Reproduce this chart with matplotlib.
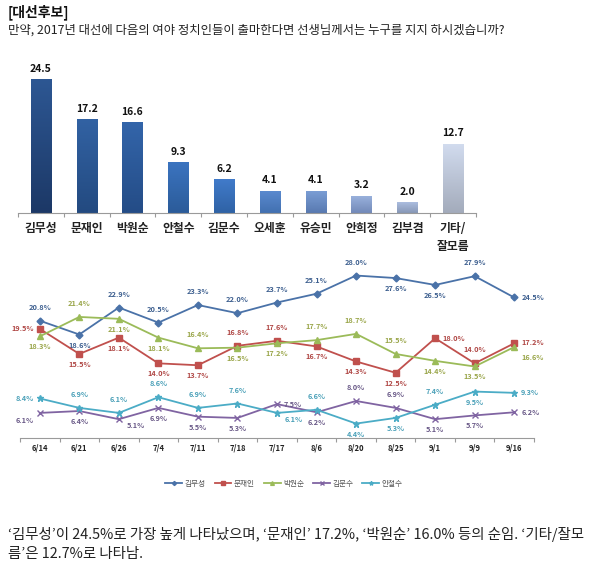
import matplotlib
matplotlib.use("Agg")
import matplotlib.pyplot as plt
import numpy as np
from matplotlib.colors import LinearSegmentedColormap

plt.rcParams['font.family'] = ['Noto Sans CJK KR', 'DejaVu Sans']

# ---------------- data ----------------
bar_names = ['김무성', '문재인', '박원순', '안철수', '김문수', '오세훈', '유승민', '안희정', '김부겸', '기타/\n잘모름']
bar_values = [24.5, 17.2, 16.6, 9.3, 6.2, 4.1, 4.1, 3.2, 2.0, 12.7]

dates = ['6/14', '6/21', '6/26', '7/4', '7/11', '7/18', '7/17', '8/6', '8/20', '8/25', '9/1', '9/9', '9/16']
s_kms = [20.8, 18.6, 22.9, 20.5, 23.3, 22.0, 23.7, 25.1, 28.0, 27.6, 26.5, 27.9, 24.5]
s_mji = [19.5, 15.5, 18.1, 14.0, 13.7, 16.8, 17.6, 16.7, 14.3, 12.5, 18.0, 14.0, 17.2]
s_pws = [18.3, 21.4, 21.1, 18.1, 16.4, 16.5, 17.2, 17.7, 18.7, 15.5, 14.4, 13.5, 16.6]
s_kmsu = [6.1, 6.4, 5.1, 6.9, 5.5, 5.3, 7.5, 6.2, 8.0, 6.9, 5.1, 5.7, 6.2]
s_acs = [8.4, 6.9, 6.1, 8.6, 6.9, 7.6, 6.1, 6.6, 4.4, 5.3, 7.4, 9.5, 9.3]
series_names = ['김무성', '문재인', '박원순', '김문수', '안철수']

# ---------------- style ----------------
bar_top = ['#2d5793', '#3262a3', '#3365aa', '#3b74c0', '#417bca', '#5b8bd0', '#7c9fd6',
           '#9bb3de', '#abbddf', '#d2dcef']
bar_bot = ['#1c3866', '#234a80', '#244c86', '#2b5b99', '#2f62a5', '#4270b0', '#5879b0',
           '#7289b8', '#8797b6', '#a3abbb']

line_colors = ['#4a72a8', '#c0504d', '#9bbb59', '#8064a2', '#4bacc6']
label_colors = ['#3d5f8f', '#b04846', '#9aa64a', '#6a5a88', '#4aa0b8']
markers = ['D', 's', '^', 'x', '*']
msizes = [3.5, 5, 4.5, 4, 5]

# label placement codes: a=above, b=below, l=left, r=right
place = [
    ['a', 'b', 'a', 'a', 'a', 'a', 'a', 'a', 'a', 'b', 'b', 'a', 'r'],
    ['l', 'b', 'b', 'b', 'b', 'a', 'a', 'b', 'b', 'b', 'r', 'a', 'ru'],
    ['b', 'a', 'b', 'b', 'a', 'b', 'b', 'a', 'a', 'a', 'b', 'b', 'rd'],
    ['bl', 'b', 'br', 'b', 'b', 'b', 'r', 'b', 'a', 'a', 'b', 'b', 'r'],
    ['l', 'a', 'a', 'a', 'a', 'a', 'br', 'a', 'b', 'b', 'a', 'b', 'r'],
]
offs = {'a': (0, 10, 'center', 'bottom'), 'b': (0, -7, 'center', 'top'),
        'l': (-6, 0, 'right', 'center'), 'r': (7, 0, 'left', 'center'),
        'ru': (7, 1, 'left', 'center'), 'rd': (7, -10, 'left', 'center'),
        'bl': (-6, -4, 'right', 'top'), 'br': (8, -3, 'left', 'top')}

W, H = 600, 579
fig = plt.figure(figsize=(6.0, 5.79), dpi=100)

def fx(px):
    return px / W

def fy(py):
    return 1 - py / H

# titles
fig.text(fx(8), fy(12), '[대선후보]', fontsize=10, fontweight='bold', va='center', ha='left', color='#111111')
fig.text(fx(8), fy(30), '만약, 2017년 대선에 다음의 여야 정치인들이 출마한다면 선생님께서는 누구를 지지 하시겠습니까?',
         fontsize=8.9, va='center', ha='left', color='#222222')

# ---------------- bar chart ----------------
axb = fig.add_axes([fx(18), fy(213), fx(476 - 18), (213 - 60) / H])
x = np.arange(len(bar_values))
bars = axb.bar(x, bar_values, width=0.44, color='none', edgecolor='none', zorder=2)
axb.set_xlim(-0.5, len(bar_values) - 0.5)
axb.set_ylim(0, 28)
grad = np.linspace(0, 1, 256).reshape(-1, 1)
for i, b in enumerate(bars):
    cmap = LinearSegmentedColormap.from_list('g%d' % i, [bar_bot[i], bar_top[i]])
    bx, by = b.get_x(), b.get_y()
    bw, bh = b.get_width(), b.get_height()
    im = axb.imshow(grad, extent=[bx, bx + bw, by, by + bh], origin='lower', aspect='auto',
                    cmap=cmap, zorder=2)
    im.set_clip_path(b)
    b.set_edgecolor('#ffffff')
    b.set_linewidth(0.6)
    axb.text(bx + bw / 2, by + bh + 1.0, f'{bar_values[i]:.1f}', ha='center', va='bottom',
             fontsize=7.5, fontweight='bold', color='#111111')
axb.set_aspect('auto')
for s in ['top', 'right', 'left']:
    axb.spines[s].set_visible(False)
axb.spines['bottom'].set_color('#9a9a9a')
axb.spines['bottom'].set_linewidth(0.8)
axb.set_yticks([])
axb.set_xticks(np.arange(-0.5, len(bar_values)), minor=False)
axb.set_xticklabels([])
axb.tick_params(axis='x', length=3, color='#9a9a9a', width=0.8)
for i, n in enumerate(bar_names):
    axb.text(i, -1.6, n, ha='center', va='top', fontsize=8.5, fontweight='bold', color='#222222',
             linespacing=1.5)

# ---------------- line chart ----------------
axl = fig.add_axes([fx(20), fy(438), fx(534 - 20), (438 - 263) / H])
xs = np.arange(len(dates))
all_series = [s_kms, s_mji, s_pws, s_kmsu, s_acs]
for k, ser in enumerate(all_series):
    axl.plot(xs, ser, color=line_colors[k], lw=1.3, marker=markers[k], ms=msizes[k],
             mew=1.0, mfc=line_colors[k], mec=line_colors[k], label=series_names[k], zorder=3)
    for i, v in enumerate(ser):
        dx, dy, ha, va = offs[place[k][i]]
        axl.annotate(f'{v:.1f}%', (xs[i], v), xytext=(dx, dy), textcoords='offset pixels',
                     ha=ha, va=va, fontsize=5.3, color=label_colors[k], fontweight='bold')
axl.set_xlim(-0.5, len(dates) - 0.5)
axl.set_ylim(2.1, 30)
for s in ['top', 'right', 'left']:
    axl.spines[s].set_visible(False)
axl.spines['bottom'].set_color('#9a9a9a')
axl.spines['bottom'].set_linewidth(0.8)
axl.set_yticks([])
axl.set_xticks(np.arange(-0.5, len(dates)))
axl.set_xticklabels([])
axl.tick_params(axis='x', length=3, color='#9a9a9a', width=0.8)
for i, d in enumerate(dates):
    axl.text(i, 1.3, d, ha='center', va='top', fontsize=5.5, fontweight='bold', color='#222222')

leg = fig.legend(loc='center', bbox_to_anchor=(fx(284), fy(484)), ncol=5, frameon=False,
                 fontsize=5.5, handlelength=2.2, columnspacing=1.2, handletextpad=0.3,
                 markerscale=0.6)
for t in leg.get_texts():
    t.set_color('#555555')

# ---------------- bottom text ----------------
fig.text(fx(8), fy(535), "‘김무성’이 24.5%로 가장 높게 나타났으며, ‘문재인’ 17.2%, ‘박원순’ 16.0% 등의 순임. ‘기타/잘모",
         fontsize=10.4, va='center', ha='left', color='#222222')
fig.text(fx(8), fy(554), "름’은 12.7%로 나타남.", fontsize=10.4, va='center', ha='left', color='#222222')

fig.savefig('out.png', dpi=100)
